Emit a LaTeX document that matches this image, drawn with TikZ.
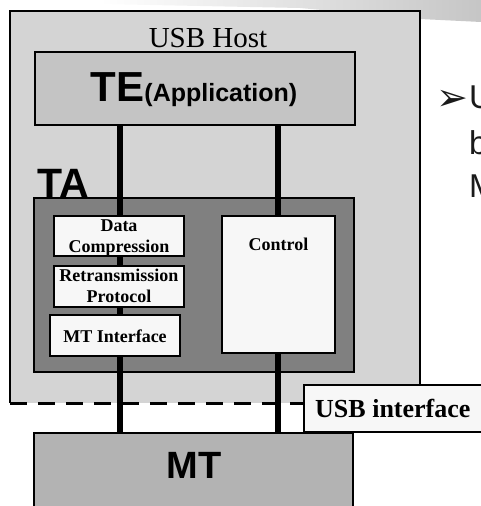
\documentclass[tikz,border=0pt]{standalone}
\usepackage{fontspec}
\setmainfont{Liberation Serif}
\newfontfamily\arialf{Liberation Sans}
\newfontfamily\dejavuf{DejaVu Sans}
\usetikzlibrary{calc}
\definecolor{hostgray}{HTML}{D4D4D4}
\definecolor{tegray}{HTML}{C4C4C4}
\definecolor{tagray}{HTML}{808080}
\definecolor{boxwhite}{HTML}{F7F7F7}
\definecolor{mtgray}{HTML}{B3B3B3}
\definecolor{slidetext}{HTML}{1A1A1A}
\begin{document}
\begin{tikzpicture}[x=1pt,y=-1pt,
  box/.style={draw=black, line width=1.5pt, inner sep=0pt, outer sep=0pt, anchor=north west},
  plainbox/.style={inner sep=0pt, outer sep=0pt, anchor=north west},
  bus/.style={line width=6pt, black},
  hostedge/.style={line width=1.3pt, black},
  usbdash/.style={line width=3pt, black, dash pattern=on 17pt off 11pt},
  smalltxt/.style={font=\bfseries\fontsize{18}{20.5}\selectfont, align=center},
  slide/.style={font=\arialf\fontsize{33}{33}\selectfont, text=slidetext, anchor=base west, inner sep=0pt}
]
\useasboundingbox (0,0) rectangle (481,506);

% faint brushed band at the top
\shade[left color=white, right color=gray!45, draw=none]
  (100,0) -- (481,0) -- (481,22) -- (420,19) -- (300,8) -- (100,4) -- cycle;

% USB Host
\node[plainbox, fill=hostgray, minimum width=410pt, minimum height=392pt] (host) at (10,11) {};
\draw[hostedge] (host.south west) -- (host.north west) -- (host.north east) -- (host.south east);
\node[font=\fontsize{29}{29}\selectfont, anchor=base, inner sep=0pt] (hostlbl) at (208,47) {USB Host};

% TE
\node[box, fill=tegray, minimum width=320pt, minimum height=73pt] (te) at (35,52) {};
\node[anchor=base, inner sep=0pt] (telbl) at (194,101)
  {\arialf\bfseries\fontsize{42}{42}\selectfont TE\fontsize{25}{25}\selectfont(Application)};

% TA
\node[box, fill=tagray, minimum width=320pt, minimum height=174pt] (ta) at (34,198) {};
\node[font=\arialf\bfseries\fontsize{41}{41}\selectfont, anchor=base west, inner sep=0pt] (talbl) at (37,197) {TA};

% MT
\node[box, fill=mtgray, minimum width=319pt, minimum height=90pt] (mt) at (34,433) {};
\node[anchor=base, inner sep=0pt, font=\arialf\bfseries\fontsize{38}{38}\selectfont] (mtlbl) at (194,478) {MT};

% bus lines
\coordinate (busL) at (119.5,0);
\coordinate (busR) at (277.5,0);
\draw[bus] (busL |- te.south) -- (busL |- mt.north);
\draw[bus] (busR |- te.south) -- (busR |- mt.north);

% inner boxes
\node[box, fill=boxwhite, minimum width=130pt, minimum height=40pt] (dc) at (54,216) {};
\node[smalltxt, anchor=north, inner sep=0pt] (dclbl) at ($(dc.north)+(0,4)$) {Data\\Compression};
\node[box, fill=boxwhite, minimum width=130pt, minimum height=41pt] (rp) at (54,266) {};
\node[smalltxt, anchor=north, inner sep=0pt] (rplbl) at ($(rp.north)+(0,3)$) {Retransmission\\Protocol};
\node[box, fill=boxwhite, minimum width=130pt, minimum height=41pt] (mti) at (50,315) {};
\node[smalltxt, anchor=base, inner sep=0pt] (mtilbl) at ($(mti.north)+(0,27)$) {MT Interface};
\node[box, fill=boxwhite, minimum width=113pt, minimum height=137pt] (ctrl) at (222,216) {};
\node[smalltxt, anchor=base, inner sep=0pt] (ctrllbl) at ($(ctrl.north)+(0,34)$) {Control};

% dashed USB boundary
\draw[usbdash] (host.south west) -- (host.south east);

% USB interface label box
\node[box, fill=boxwhite, minimum width=200pt, minimum height=47pt] (usbif) at (304,385) {};
\node[font=\bfseries\fontsize{26}{26}\selectfont, anchor=base west, inner sep=0pt] (usbiflbl) at (315,417) {USB interface};

% slide text cut at the right edge
\node[font=\dejavuf\fontsize{38}{38}\selectfont, text=slidetext, anchor=base west, inner sep=0pt] (bullet) at (436,110) {➢};
\node[slide] (s1) at (469,108) {U};
\node[slide] (s2) at (469,154) {b};
\node[slide] (s3) at (469,197) {M};
\end{tikzpicture}
\end{document}
